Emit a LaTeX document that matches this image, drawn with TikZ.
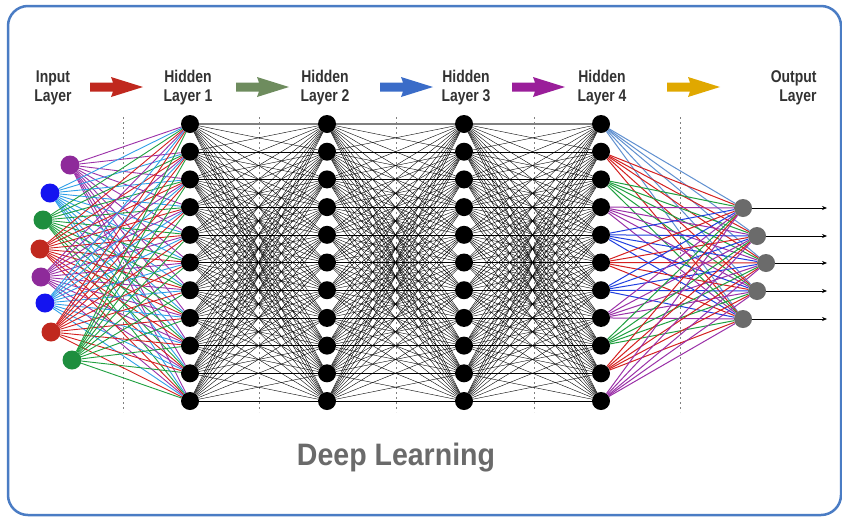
\documentclass[tikz,border=0pt]{standalone}
\usepackage{fontspec}
\setmainfont{Liberation Sans}
\newfontfamily\condfont[FakeStretch=0.82]{Liberation Sans}
\newfontfamily\titlefont[FakeStretch=0.92]{Liberation Sans}
\usetikzlibrary{arrows.meta,backgrounds}
\definecolor{cframe}{HTML}{4A7CC4}
\definecolor{cpur}{HTML}{8E2A9A}
\definecolor{cblu}{HTML}{1414F0}
\definecolor{cgrn}{HTML}{1E8E3E}
\definecolor{cred}{HTML}{C0281E}
\definecolor{lpur}{HTML}{9B30A8}
\definecolor{lblu}{HTML}{30A0E8}
\definecolor{lgrn}{HTML}{20A040}
\definecolor{lred}{HTML}{D42020}
\definecolor{oblu}{HTML}{2040E0}
\definecolor{olbl}{HTML}{6090D0}
\definecolor{ared}{HTML}{C0281E}
\definecolor{agrn}{HTML}{6E8C5E}
\definecolor{ablu}{HTML}{3A6CC8}
\definecolor{apur}{HTML}{9A1E9A}
\definecolor{agld}{HTML}{E0A800}
\definecolor{ctext}{HTML}{333333}
\definecolor{cdeep}{HTML}{6A6A6A}
\definecolor{cout}{HTML}{6B6B6B}
\tikzset{
  hid/.style={circle, fill=black, minimum size=18pt, inner sep=0pt},
  inp/.style={circle, minimum size=19pt, inner sep=0pt},
  outn/.style={circle, fill=cout, minimum size=18pt, inner sep=0pt},
  hedge/.style={line width=0.4pt, black},
  iedge/.style={line width=0.9pt},
  oedge/.style={line width=1pt},
  lab/.style={font=\condfont\bfseries\fontsize{17}{19}\selectfont, text=ctext, align=center},
  sepline/.style={gray, line width=1pt, dash pattern=on 2pt off 3pt},
  outarrow/.style={line width=0.7pt, black, -{Stealth[length=5pt,width=4pt]}},
  bigarrow/.pic={\fill[pic actions] (0,-4.5) -- (23,-4.5) -- (21,-10) -- (53,0) -- (21,10) -- (23,4.5) -- (0,4.5) -- cycle;}
}
\begin{document}
\begin{tikzpicture}[x=1pt,y=-1pt]
\useasboundingbox (0,0) rectangle (842,517);

% hidden layers
\foreach \l/\x in {1/190,2/327,3/464,4/601}
  \foreach \i in {1,...,11}
    \node[hid] (h\l-\i) at (\x, {124+(\i-1)*27.7}) {};

% input nodes
\foreach \i/\x/\y/\c in {1/70/165/cpur, 2/50/193/cblu, 3/43/220/cgrn, 4/40/249/cred, 5/41/277/cpur, 6/45/303/cblu, 7/51/332/cred, 8/72/360/cgrn}
  \node[inp, fill=\c] (in\i) at (\x,\y) {};

% output nodes
\foreach \i/\x/\y in {1/743/208, 2/757/236, 3/766/263, 4/757/291, 5/743/319} {
  \node[outn] (o\i) at (\x,\y) {};
  \coordinate (e\i) at (827,\y);
}

\begin{pgfonlayer}{background}
\fill[white] (0,0) rectangle (842,517);
\draw[cframe, line width=2.5pt, rounded corners=20pt] (8,6) rectangle (841,515);
% separator lines
\foreach \k/\x in {1/123,2/259,3/396,4/534,5/680} {
  \coordinate (st\k) at (\x,117);
  \coordinate (sb\k) at (\x,412);
  \draw[sepline] (st\k) -- (sb\k);
}
% input edges
\foreach \i/\c in {1/lpur,2/lblu,3/lgrn,4/lred,5/lpur,6/lblu,7/lred,8/lgrn}
  \foreach \j in {1,...,11}
    \draw[iedge, \c] (in\i) -- (h1-\j);
% hidden edges
\foreach \l/\m in {1/2,2/3,3/4}
  \foreach \i in {1,...,11}
    \foreach \j in {1,...,11}
      \draw[hedge] (h\l-\i) -- (h\m-\j);
\foreach \l/\m in {1/2,2/3,3/4}
  \draw[line width=1.4pt, gray] (h\l-1) -- (h\m-1);
% output edges
\foreach \i/\c in {1/olbl,2/lred,3/lgrn,4/lpur,5/oblu,6/lred,7/oblu,8/lpur,9/lgrn,10/lred,11/lpur}
  \foreach \j in {1,...,5}
    \draw[oedge, \c] (h4-\i) -- (o\j);
\end{pgfonlayer}

\foreach \i in {1,...,5}
  \draw[outarrow] (o\i) -- (e\i);

% labels
\node[lab] (lin) at (53,88) {Input\\Layer};
\node[lab] (l1) at (188,88) {Hidden\\Layer 1};
\node[lab] (l2) at (325,88) {Hidden\\Layer 2};
\node[lab] (l3) at (466,88) {Hidden\\Layer 3};
\node[lab] (l4) at (602,88) {Hidden\\Layer 4};
\node[lab, align=right, anchor=east] (lout) at (820,88) {Output\\Layer};

% big arrows
\pic[fill=ared] at (90,87) {bigarrow};
\pic[fill=agrn] at (236,87) {bigarrow};
\pic[fill=ablu] at (380,87) {bigarrow};
\pic[fill=apur] at (512,87) {bigarrow};
\pic[fill=agld] at (667,87) {bigarrow};

\node[font=\titlefont\bfseries\fontsize{31}{36}\selectfont, text=cdeep] (title) at (396,458) {Deep Learning};
\end{tikzpicture}
\end{document}
